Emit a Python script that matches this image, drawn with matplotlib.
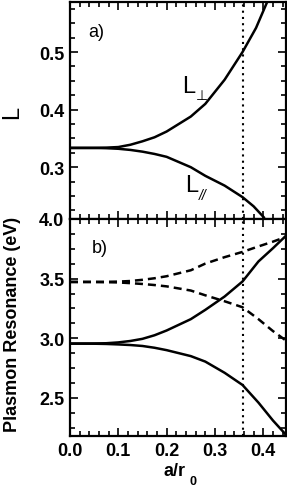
import numpy as np
import matplotlib
matplotlib.use('Agg')
import matplotlib.pyplot as plt
from matplotlib.ticker import MultipleLocator

plt.rcParams['font.family'] = ['Liberation Sans', 'DejaVu Sans']
plt.rcParams['font.weight'] = 'bold'

# --- data ---
x_perp = [0.0, 0.05, 0.075, 0.10, 0.125, 0.15, 0.175, 0.20, 0.25, 0.28, 0.32, 0.357, 0.385, 0.408]
L_perp = [0.3335, 0.3335, 0.334, 0.335, 0.339, 0.345, 0.352, 0.362, 0.388, 0.410, 0.452, 0.500, 0.542, 0.587]

x_par = [0.0, 0.05, 0.075, 0.10, 0.125, 0.15, 0.175, 0.20, 0.25, 0.28, 0.32, 0.357, 0.38, 0.401]
L_par = [0.3335, 0.3335, 0.333, 0.332, 0.330, 0.327, 0.323, 0.318, 0.300, 0.285, 0.268, 0.248, 0.232, 0.213]

x_res = [0.0, 0.05, 0.075, 0.10, 0.125, 0.15, 0.175, 0.20, 0.25, 0.28, 0.32, 0.357, 0.39, 0.42, 0.447]
res_solid_up = [2.955, 2.956, 2.958, 2.965, 2.977, 2.995, 3.025, 3.065, 3.16, 3.238, 3.35, 3.476, 3.644, 3.755, 3.86]
res_solid_lo = [2.955, 2.954, 2.952, 2.948, 2.943, 2.935, 2.92, 2.90, 2.85, 2.804, 2.71, 2.608, 2.46, 2.31, 2.19]
res_dash_up = [3.472, 3.472, 3.473, 3.475, 3.48, 3.49, 3.503, 3.52, 3.57, 3.626, 3.68, 3.724, 3.77, 3.81, 3.85]
res_dash_lo = [3.472, 3.472, 3.470, 3.468, 3.462, 3.455, 3.446, 3.435, 3.40, 3.36, 3.31, 3.26, 3.16, 3.06, 2.98]

x_mark = 0.357

W, H = 287, 489
fig = plt.figure(figsize=(W / 100, H / 100), dpi=100)
left, right = 70 / W, 286 / W
ax1 = fig.add_axes([left, 1 - 220 / H, right - left, 217 / H])
ax2 = fig.add_axes([left, 1 - 437 / H, right - left, 217 / H])

lw = 1.8
dots = (0, (1, 2.0))
for ax in (ax1, ax2):
    for s in ax.spines.values():
        s.set_linewidth(1.6)
    ax.tick_params(which='both', direction='in', top=True, right=True,
                   width=1.2, labelsize=13, pad=4)
    ax.tick_params(which='major', length=6)
    ax.tick_params(which='minor', length=3.5)
    ax.xaxis.set_major_locator(MultipleLocator(0.1))
    ax.xaxis.set_minor_locator(MultipleLocator(0.02))
    ax.set_xlim(0, 0.447)
    ax.axvline(x_mark, color='black', lw=1.5, ls=dots)

# a) depolarization factors
ax1.plot(x_perp, L_perp, color='black', lw=lw)
ax1.plot(x_par, L_par, color='black', lw=lw)
ax1.set_ylim(0.21, 0.587)
ax1.yaxis.set_major_locator(MultipleLocator(0.1))
ax1.yaxis.set_minor_locator(MultipleLocator(0.025))
ax1.set_yticks([0.3, 0.4, 0.5])
ax1.tick_params(labelbottom=False)
ax1.text(0.083, 0.843, 'a)', transform=ax1.transAxes, fontsize=13,
         fontweight='normal')
ax1.text(0.519, 0.585, 'L', transform=ax1.transAxes, fontsize=17,
         fontweight='normal')
ax1.text(0.582, 0.553, '⊥', transform=ax1.transAxes, fontsize=10,
         family=['DejaVu Sans'], fontweight='normal')
ax1.text(0.532, 0.129, 'L', transform=ax1.transAxes, fontsize=17,
         fontweight='normal')
ax1.text(0.596, 0.092, '//', transform=ax1.transAxes, fontsize=10,
         style='italic', fontweight='normal')

# b) plasmon resonances
dash = (0, (3.2, 2.0))
ax2.plot(x_res, res_solid_up, color='black', lw=lw)
ax2.plot(x_res, res_solid_lo, color='black', lw=lw)
ax2.plot(x_res, res_dash_up, color='black', lw=lw, ls=dash)
ax2.plot(x_res, res_dash_lo, color='black', lw=lw, ls=dash)
ax2.set_ylim(2.18, 4.0)
ax2.yaxis.set_major_locator(MultipleLocator(0.5))
ax2.yaxis.set_minor_locator(MultipleLocator(0.125))
ax2.set_xticks([0.0, 0.1, 0.2, 0.3, 0.4])
ax2.text(0.102, 0.848, 'b)', transform=ax2.transAxes, fontsize=13,
         fontweight='normal')

# axis labels
fig.text(12 / W, 1 - 112 / H, 'L', rotation=90, fontsize=17,
         ha='center', va='center', fontweight='normal')
fig.text(13 / W, 1 - 324 / H, 'Plasmon Resonance (eV)', rotation=90,
         fontsize=13, ha='center', va='center')
fig.text(175 / W, 1 - 476 / H, 'a/r', fontsize=13, ha='center',
         va='baseline')
fig.text(189 / W, 1 - 485 / H, '0', fontsize=9, ha='left', va='baseline')

fig.savefig('out.png', dpi=100)
